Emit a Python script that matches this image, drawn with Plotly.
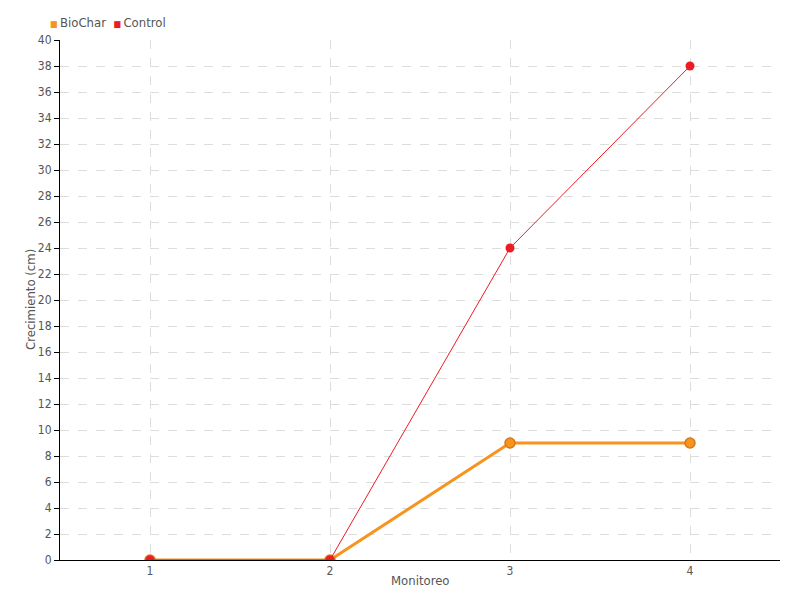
import plotly.graph_objects as go

monitoreo = [1, 2, 3, 4]
biochar = [0, 0, 9, 9]
control = [0, 0, 24, 38]
y_ticks = list(range(0, 41, 2))
series_names = ["BioChar", "Control"]
series_colors = ["#f7941d", "#ed1c24"]

font_family = "DejaVu Sans Condensed, DejaVu Sans, sans-serif"
gray = "#555555"

fig = go.Figure()
fig.add_trace(go.Scatter(
    x=monitoreo, y=biochar, name=series_names[0], mode="lines+markers",
    line=dict(color=series_colors[0], width=3), showlegend=False,
    marker=dict(size=10, color=series_colors[0], line=dict(color="#d9761a", width=1.5)),
))
fig.add_trace(go.Scatter(
    x=monitoreo, y=control, name=series_names[1], mode="lines+markers",
    line=dict(color=series_colors[1], width=1), showlegend=False,
    marker=dict(size=9, color=series_colors[1]),
))

legend_text = "&nbsp;&nbsp;".join(
    f"<span style='color:{c};font-size:9px'>■</span>&#8201;{n}"
    for n, c in zip(series_names, series_colors)
)

fig.update_layout(
    width=792, height=592,
    margin=dict(l=52, r=20, t=32, b=40, autoexpand=False),
    plot_bgcolor="white", paper_bgcolor="white",
    font=dict(family=font_family, size=13, color=gray),
    showlegend=False,
    xaxis=dict(
        range=[0.5, 4.5], tickvals=monitoreo, ticktext=[str(v) for v in monitoreo],
        showline=True, linecolor="black", linewidth=1, automargin=False,
        showgrid=True, gridcolor="#dddddd", griddash="dash", gridwidth=1,
        ticks="", zeroline=False, tickfont=dict(size=12),
    ),
    yaxis=dict(
        range=[0, 40], tickvals=y_ticks, automargin=False,
        showline=True, linecolor="black", linewidth=1,
        showgrid=True, gridcolor="#dddddd", griddash="dash", gridwidth=1,
        ticks="outside", ticklen=5, tickcolor="black", zeroline=False,
        tickfont=dict(size=12),
    ),
    annotations=[
        dict(text="Monitoreo", xref="paper", yref="paper", x=0.5, y=0,
             yshift=-20, xanchor="center", yanchor="middle", showarrow=False,
             font=dict(size=13, color=gray)),
        dict(text="Crecimiento (cm)", xref="paper", yref="paper", x=0, y=0.5,
             xshift=-30, xanchor="center", yanchor="middle", textangle=-90,
             showarrow=False, font=dict(size=13, color=gray)),
        dict(text=legend_text, xref="paper", yref="paper", x=0, y=1,
             xshift=-12, yshift=18, xanchor="left", yanchor="middle",
             showarrow=False, font=dict(size=13, color=gray)),
    ],
)

fig.write_html("out.html")
